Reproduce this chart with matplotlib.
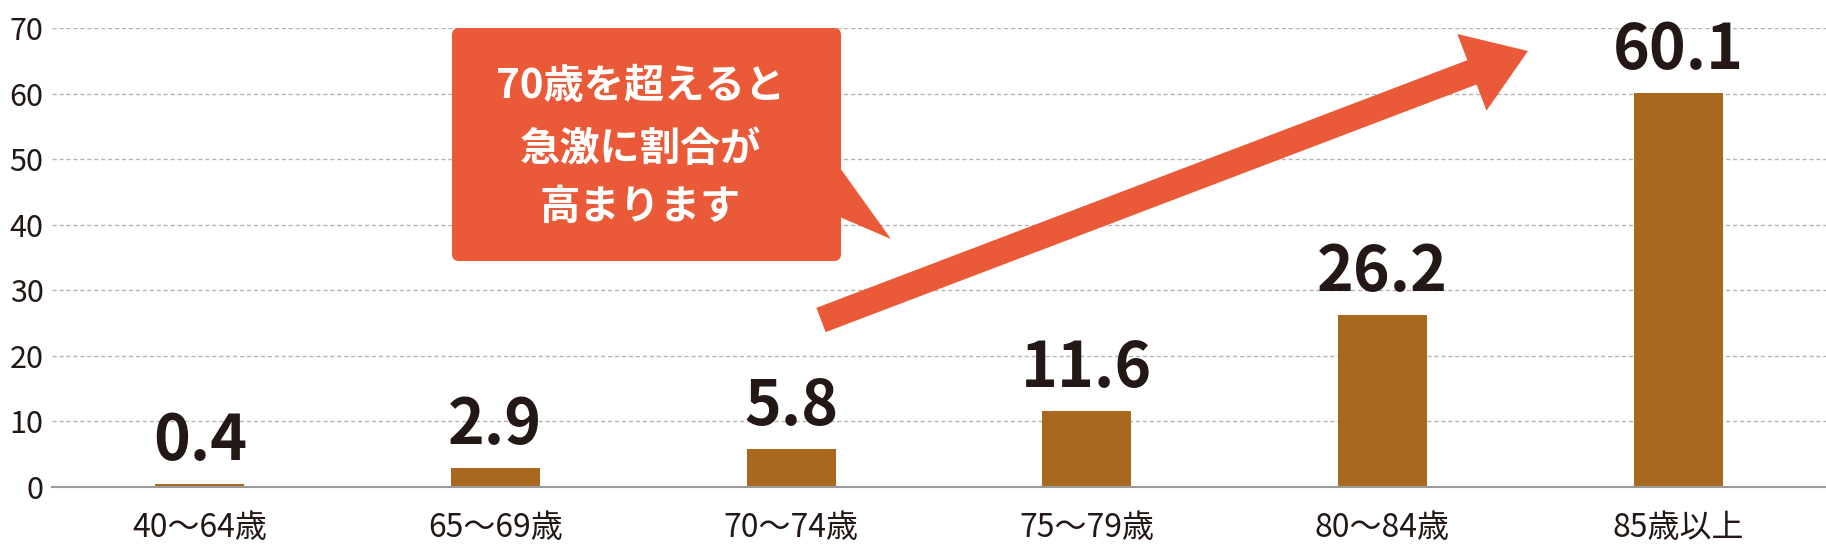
import numpy as np
import matplotlib
matplotlib.use("Agg")
import matplotlib.pyplot as plt
from matplotlib.patches import Polygon, FancyBboxPatch

plt.rcParams['font.family'] = ['Noto Sans CJK JP', 'DejaVu Sans']

# データ
age_groups = ["40〜64歳", "65〜69歳", "70〜74歳", "75〜79歳", "80〜84歳", "85歳以上"]
rates = [0.4, 2.9, 5.8, 11.6, 26.2, 60.1]
y_ticks = [0, 10, 20, 30, 40, 50, 60, 70]
callout_lines = ["70歳を超えると", "急激に割合が", "高まります"]

BAR = "#a8691f"
ACCENT = "#ea5a38"
INK = "#231815"
GRID = "#b4b4b4"

W, H = 1826, 550
fig = plt.figure(figsize=(W / 100, H / 100), dpi=100)
ax = fig.add_axes([52 / W, 1 - 487 / H, 1 - 52 / W, (487 - 28) / H])


def fxy(px, py):
    # pixel (top-left origin) -> figure fraction
    return (px / W, 1 - py / H)


x = np.arange(len(age_groups))
ax.bar(x, rates, width=0.30, color=BAR, zorder=2)
ax.set_xlim(-0.5, len(age_groups) - 0.5)
ax.set_ylim(0, 70)
ax.set_yticks(y_ticks)
ax.set_xticks(x, age_groups)
ax.tick_params(axis='y', length=0, pad=6, labelsize=22, labelcolor=INK)
ax.tick_params(axis='x', length=0, pad=18, labelsize=23, labelcolor=INK)
ax.yaxis.grid(True, linestyle=(0, (3, 2)), color=GRID, lw=1)
ax.set_axisbelow(True)
for s in ['top', 'right', 'left']:
    ax.spines[s].set_visible(False)
ax.spines['bottom'].set_color('#9a9a9a')
ax.spines['bottom'].set_linewidth(1.5)
ax.spines['bottom'].set_zorder(3)

for xi, v in zip(x, rates):
    ax.annotate(f"{v:.1f}", (xi, v), xytext=(0, 8), textcoords='offset points',
                ha='center', va='bottom', fontsize=45, fontweight='bold', color=INK)

# 吹き出し
box = FancyBboxPatch(fxy(452, 261), (841 - 452) / W, (261 - 28) / H,
                     boxstyle=f"round,pad=0,rounding_size={7 / W}",
                     mutation_aspect=W / H, transform=fig.transFigure,
                     fc=ACCENT, ec='none', zorder=5)
fig.add_artist(box)
tail = Polygon([fxy(835, 161), fxy(891, 239), fxy(835, 215)], closed=True,
               transform=fig.transFigure, fc=ACCENT, ec='none', zorder=5)
fig.add_artist(tail)
for line, py in zip(callout_lines, [87, 149, 207]):
    fig.text(*fxy(640, py), line, ha='center', va='center', fontsize=29,
             fontweight='bold', color='white', zorder=6)

# 矢印
start = np.array([821.0, 320.0])
tip = np.array([1528.0, 51.0])
u = (tip - start) / np.linalg.norm(tip - start)
n = np.array([-u[1], u[0]])
sw, hw, hl = 26, 82, 60
base = tip - u * hl
pts = [start + n * sw / 2, base + n * sw / 2, base + n * hw / 2, tip,
       base - n * hw / 2, base - n * sw / 2, start - n * sw / 2]
arrow = Polygon([fxy(*p) for p in pts], closed=True, transform=fig.transFigure,
                fc=ACCENT, ec='none', zorder=5)
fig.add_artist(arrow)

fig.savefig("out.png", dpi=100)
